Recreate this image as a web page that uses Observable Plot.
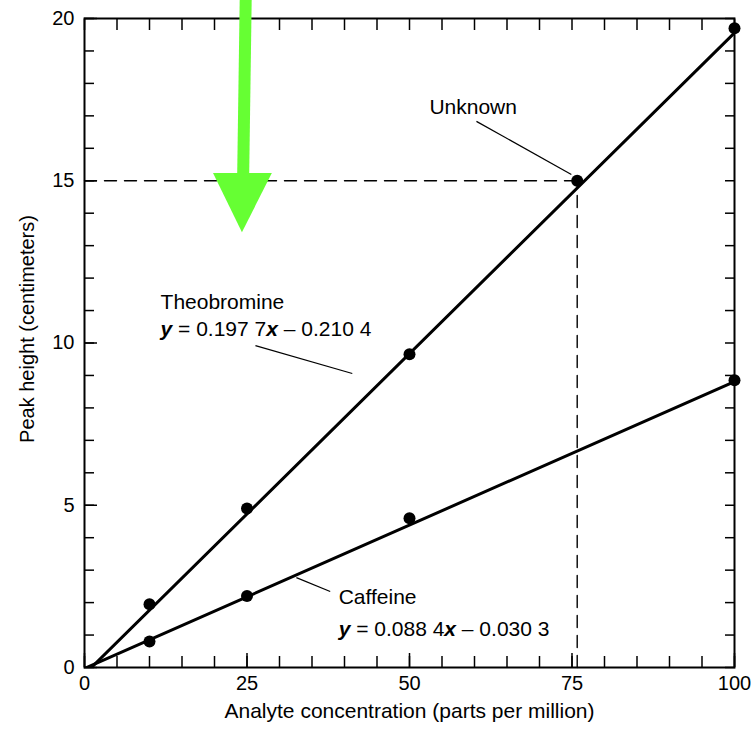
<!DOCTYPE html>
<html><head><meta charset="utf-8">
<script src="https://cdn.jsdelivr.net/npm/d3@7"></script>
<script src="https://cdn.jsdelivr.net/npm/@observablehq/plot@0.6"></script>
<style>
body{margin:0;background:#fff;}
#chart svg{display:block;}
</style>
</head><body><div id="chart"></div>
<script>
// ---- data ----
const concentrations = [10, 25, 50, 100];
const theobromineHeights = [1.95, 4.9, 9.65, 19.7];
const caffeineHeights = [0.8, 2.2, 4.6, 8.85];
const fitNames = ["Theobromine", "Caffeine"];
const fitSlopes = [0.1977, 0.0884];
const fitIntercepts = [-0.2104, -0.0303];
const fitEquations = ["y = 0.197 7x – 0.210 4", "y = 0.088 4x – 0.030 3"];
const unknownX = 75.8;
const unknownY = 15.0;
const xTickLabels = [0, 25, 50, 75, 100];
const yTickLabels = [0, 5, 10, 15, 20];
const xMinorTicks = d3.range(0, 101, 5);
const yMinorTicks = d3.range(0, 21, 1);

// annotation anchors (data coordinates)
const unknownLabel = [{text: "Unknown", x: 59.8, y: 17.26}];
const nameLabels = [
  {text: "Theobromine", x: 11.7, y: 11.25},
  {text: "Caffeine", x: 39.1, y: 2.16}
];
const eqLabels = [
  {text: fitEquations[0], x: 11.7, y: 10.42},
  {text: fitEquations[1], x: 39.1, y: 1.17}
];
const leaders = [
  {x1: 60.3, y1: 16.83, x2: 74.9, y2: 15.19},
  {x1: 26.3, y1: 9.92, x2: 41.2, y2: 9.06},
  {x1: 32.6, y1: 2.77, x2: 37.8, y2: 2.34}
];
const arrowShaft = [{x1: 24.8, y1: 20.6, x2: 24.4, y2: 15.0}];
const arrowHead = [
  {x: 19.85, y1: 15.22, y2: 15.22},
  {x: 24.3, y1: 15.22, y2: 13.4},
  {x: 28.9, y1: 15.22, y2: 15.22}
];

const points = [];
concentrations.forEach((c, i) => {
  points.push({series: "Theobromine", x: c, y: theobromineHeights[i]});
  points.push({series: "Caffeine", x: c, y: caffeineHeights[i]});
});
points.push({series: "Unknown", x: unknownX, y: unknownY});

const fitLines = [];
fitNames.forEach((n, i) => {
  [0, 100].forEach(x => fitLines.push({series: n, x, y: fitSlopes[i] * x + fitIntercepts[i]}));
});

const dash = [{x: 0, y: unknownY}, {x: unknownX, y: unknownY}];
const dashV = [{x: unknownX, y: 0}, {x: unknownX, y: unknownY}];

const font = "'Liberation Sans', Arial, Helvetica, sans-serif";
const blank = () => "";

const chart = Plot.plot({
  width: 751,
  height: 732,
  marginLeft: 84,
  marginRight: 17,
  marginTop: 18,
  marginBottom: 65,
  style: {fontFamily: font, background: "#fff", color: "#000"},
  x: {domain: [0, 100], axis: null},
  y: {domain: [0, 20], axis: null},
  marks: [
    // dashed read-off lines
    Plot.line(dash, {x: "x", y: "y", stroke: "#000", strokeWidth: 1.4, strokeDasharray: "12,8"}),
    Plot.line(dashV, {x: "x", y: "y", stroke: "#000", strokeWidth: 1.4, strokeDasharray: "12,8"}),
    // inward ticks
    Plot.axisX(xMinorTicks, {anchor: "bottom", tickSize: -11, tickFormat: blank, label: null, strokeWidth: 1.5}),
    Plot.axisX(xTickLabels, {anchor: "bottom", tickSize: -14, tickFormat: blank, label: null, strokeWidth: 1.5}),
    Plot.axisX(xMinorTicks, {anchor: "top", tickSize: -11, tickFormat: blank, label: null, strokeWidth: 1.5}),
    Plot.axisY(yMinorTicks, {anchor: "left", tickSize: -10, tickFormat: blank, label: null, strokeWidth: 1.5}),
    Plot.axisY(yTickLabels, {anchor: "left", tickSize: -13, tickFormat: blank, label: null, strokeWidth: 1.5}),
    Plot.axisY(yMinorTicks, {anchor: "right", tickSize: -10, tickFormat: blank, label: null, strokeWidth: 1.5}),
    // tick labels
    Plot.axisX(xTickLabels, {anchor: "bottom", tickSize: 0, tickPadding: 8, fontSize: 20, label: null}),
    Plot.axisY(yTickLabels, {anchor: "left", tickSize: 0, tickPadding: 10, fontSize: 20, label: null}),
    // axis titles
    Plot.text(["Analyte concentration (parts per million)"], {frameAnchor: "bottom", dy: 50, fontSize: 21}),
    Plot.text(["Peak height (centimeters)"], {frameAnchor: "left", textAnchor: "middle", dx: -57, dy: -14, rotate: -90, fontSize: 20}),
    Plot.frame({stroke: "#000", strokeWidth: 2}),
    // fit lines
    Plot.line(fitLines, {x: "x", y: "y", z: "series", stroke: "#000", strokeWidth: 3, clip: true}),
    // data points
    Plot.dot(points, {x: "x", y: "y", r: 6, fill: "#000", stroke: "none"}),
    // leader lines
    Plot.link(leaders, {x1: "x1", y1: "y1", x2: "x2", y2: "y2", stroke: "#000", strokeWidth: 1.2}),
    // labels
    Plot.text(unknownLabel, {x: "x", y: "y", text: "text", textAnchor: "middle", fontSize: 21, fill: "#000"}),
    Plot.text(nameLabels, {x: "x", y: "y", text: "text", textAnchor: "start", fontSize: 21, fill: "#000"}),
    Plot.text(eqLabels, {x: "x", y: "y", text: "text", textAnchor: "start", fontSize: 21, fill: "#000"}),
    // green overlay arrow
    Plot.link(arrowShaft, {x1: "x1", y1: "y1", x2: "x2", y2: "y2", stroke: "#66ff33", strokeWidth: 12, clip: false}),
    Plot.areaY(arrowHead, {x: "x", y1: "y1", y2: "y2", fill: "#66ff33", clip: false})
  ]
});

// italicise the variables in the equations
d3.select(chart).selectAll("text").each(function() {
  const t = this.textContent;
  if (/^y = /.test(t)) {
    const m = t.match(/^y = (.*?)x (.*)$/);
    const sel = d3.select(this);
    sel.text(null);
    sel.append("tspan").attr("font-style", "italic").attr("font-weight", "bold").text("y");
    sel.append("tspan").text(" = " + m[1]);
    sel.append("tspan").attr("font-style", "italic").attr("font-weight", "bold").text("x");
    sel.append("tspan").text(" " + m[2]);
  }
});

document.getElementById("chart").appendChild(chart);
</script>
</body></html>
